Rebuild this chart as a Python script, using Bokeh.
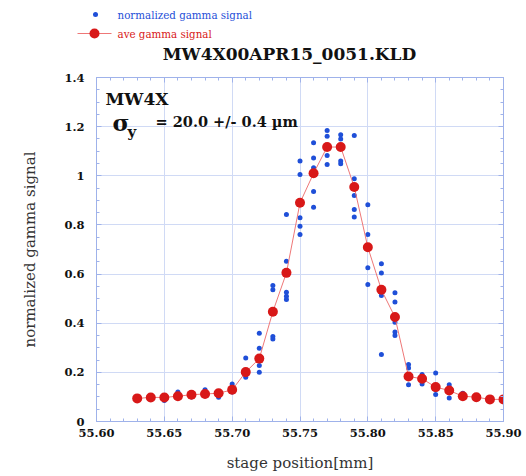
import numpy as np
from bokeh.plotting import figure
from bokeh.layouts import column
from bokeh.models import (Label, LinearAxis, FixedTicker, CustomJSTickFormatter, Range1d)
from bokeh.core.properties import value
from bokeh.embed import file_html
from bokeh.resources import INLINE

# ---- data ----
x_avg = [55.63, 55.64, 55.65, 55.66, 55.67, 55.68, 55.69, 55.70, 55.71, 55.72,
         55.73, 55.74, 55.75, 55.76, 55.77, 55.78, 55.79, 55.80, 55.81, 55.82,
         55.83, 55.84, 55.85, 55.86, 55.87, 55.88, 55.89, 55.90]
y_avg = [0.094, 0.098, 0.098, 0.103, 0.109, 0.112, 0.115, 0.129, 0.201, 0.256,
         0.447, 0.605, 0.890, 1.010, 1.117, 1.117, 0.954, 0.709, 0.536, 0.425,
         0.183, 0.174, 0.140, 0.126, 0.103, 0.099, 0.090, 0.090]

x_raw = [55.63, 55.63, 55.64, 55.64, 55.65, 55.65, 55.66, 55.66, 55.67, 55.67,
         55.68, 55.68, 55.69, 55.69, 55.70, 55.70, 55.70, 55.71, 55.71, 55.71,
         55.72, 55.72, 55.72, 55.72, 55.73, 55.73, 55.73, 55.73,
         55.74, 55.74, 55.74, 55.74, 55.74, 55.75, 55.75, 55.75, 55.75, 55.75,
         55.76, 55.76, 55.76, 55.76, 55.76, 55.77, 55.77, 55.77, 55.77,
         55.78, 55.78, 55.78, 55.78, 55.79, 55.79, 55.79, 55.79, 55.79,
         55.80, 55.80, 55.80, 55.80, 55.81, 55.81, 55.81, 55.81,
         55.82, 55.82, 55.82, 55.82, 55.82, 55.83, 55.83, 55.83,
         55.84, 55.84, 55.84, 55.85, 55.85, 55.85, 55.86, 55.86, 55.86,
         55.87, 55.87, 55.88, 55.88, 55.89, 55.89, 55.90, 55.90]
y_raw = [0.098, 0.092, 0.100, 0.095, 0.085, 0.100, 0.120, 0.100, 0.100, 0.115,
         0.129, 0.105, 0.099, 0.120, 0.153, 0.140, 0.120, 0.258, 0.180, 0.190,
         0.359, 0.298, 0.228, 0.200, 0.553, 0.536, 0.346, 0.336,
         0.842, 0.652, 0.526, 0.510, 0.497, 1.060, 1.005, 0.829, 0.795, 0.761,
         1.134, 1.072, 1.033, 0.936, 0.872, 1.184, 1.161, 1.083, 1.046,
         1.167, 1.150, 1.060, 1.049, 1.164, 0.988, 0.920, 0.863, 0.832,
         0.882, 0.761, 0.626, 0.558, 0.642, 0.604, 0.513, 0.273,
         0.524, 0.486, 0.404, 0.364, 0.350, 0.232, 0.218, 0.150,
         0.191, 0.153, 0.180, 0.197, 0.110, 0.130, 0.150, 0.096, 0.130,
         0.115, 0.100, 0.100, 0.095, 0.090, 0.088, 0.090, 0.085]

x_ticks = [55.60, 55.65, 55.70, 55.75, 55.80, 55.85, 55.90]
x_tick_labels = ["55.60", "55.65", "55.70", "55.75", "55.80", "55.85", "55.90"]
y_ticks = [0, 0.2, 0.4, 0.6, 0.8, 1.0, 1.2, 1.4]
y_tick_labels = ["0", "0.2", "0.4", "0.6", "0.8", "1", "1.2", "1.4"]

title_text = "MW4X00APR15_0051.KLD"
legend_raw = "normalized gamma signal"
legend_avg = "ave gamma signal"

SERIF = "DejaVu Serif"
AX = "#9fb2ea"
GRID = "#d0daf5"
BLUE = "#1f4fd8"
RED = "#d81818"
LINE_RED = "#ee7777"

# ---------- header figure (legend + title) ----------
TOP_H = 70
hdr = figure(width=526, height=TOP_H, output_backend="svg", toolbar_location=None,
             x_range=Range1d(0, 526), y_range=Range1d(TOP_H, 0),
             x_axis_type=None, y_axis_type=None, min_border=0,
             outline_line_color=None)
hdr.frame_align = False
hdr.grid.visible = False
hdr.background_fill_color = "white"
hdr.border_fill_color = "white"

hdr.scatter([95], [14], size=5, color=BLUE, line_color=None)
hdr.line([77, 111], [33, 33], line_color=LINE_RED, line_width=1)
hdr.scatter([94], [33], size=10, color=RED, line_color=None)
hdr.text([117], [14], text=[legend_raw], text_font=value(SERIF), text_font_size="10.3px",
         text_color=BLUE, text_baseline="middle", text_align="left")
hdr.text([117], [33], text=[legend_avg], text_font=value(SERIF), text_font_size="10.3px",
         text_color=RED, text_baseline="middle", text_align="left")
hdr.text([289], [53], text=[title_text], text_font=value(SERIF), text_font_size="17px",
         text_font_style="bold", text_color="#111111", text_baseline="middle",
         text_align="center")

# ---------- main plot ----------
p = figure(width=526, height=476 - TOP_H, output_backend="svg", toolbar_location=None,
           x_range=Range1d(55.60, 55.90), y_range=Range1d(0, 1.4),
           min_border_left=96, min_border_right=23, min_border_top=7,
           min_border_bottom=55, outline_line_color=None)
p.frame_align = False
p.background_fill_color = "white"
p.border_fill_color = "white"

x_minor = list(np.round(np.arange(55.60, 55.9001, 0.01), 2))
y_minor = list(np.round(np.arange(0, 1.4001, 0.05), 2))
xt = FixedTicker(ticks=x_ticks, minor_ticks=x_minor)
yt = FixedTicker(ticks=y_ticks, minor_ticks=y_minor)

xfmt = CustomJSTickFormatter(args=dict(labels=x_tick_labels), code="return labels[index]")
yfmt = CustomJSTickFormatter(args=dict(labels=y_tick_labels), code="return labels[index]")
blank = CustomJSTickFormatter(code="return ''")

def style_axis(ax, show_labels):
    ax.axis_line_color = AX
    ax.major_tick_line_color = AX
    ax.minor_tick_line_color = AX
    ax.major_tick_in = 5
    ax.major_tick_out = 0
    ax.minor_tick_in = 3
    ax.minor_tick_out = 0
    ax.major_label_text_font = SERIF
    ax.major_label_text_font_style = "bold"
    ax.major_label_text_font_size = "11.5px" if show_labels else "0px"
    ax.major_label_text_color = "#111111"
    ax.axis_label_text_font = SERIF
    ax.axis_label_text_font_style = "normal"
    ax.axis_label_text_font_size = "15px"
    ax.axis_label_text_color = "#333333"

xa = p.xaxis[0]
xa.ticker = xt
xa.formatter = xfmt
style_axis(xa, True)
xa.major_label_standoff = 7
xa.axis_label = "stage position[mm]"
xa.axis_label_standoff = 14

ya = p.yaxis[0]
ya.ticker = yt
ya.formatter = yfmt
style_axis(ya, True)
ya.major_label_standoff = 12
ya.axis_label = "normalized gamma signal"
ya.axis_label_standoff = 22

top = LinearAxis(ticker=xt, formatter=blank)
style_axis(top, False)
p.add_layout(top, "above")
right = LinearAxis(ticker=yt, formatter=blank)
style_axis(right, False)
p.add_layout(right, "right")

p.xgrid.ticker = xt
p.ygrid.ticker = yt
p.xgrid.grid_line_color = GRID
p.ygrid.grid_line_color = GRID

p.scatter(x_raw, y_raw, size=5, color=BLUE, line_color=None)
p.line(x_avg, y_avg, line_color=LINE_RED, line_width=1)
p.scatter(x_avg, y_avg, size=10, color=RED, line_color=None)

def lab(x, y, text, size, style="bold", align="left"):
    p.add_layout(Label(x=x, y=y, x_units="screen", y_units="screen", text=text,
                       text_font=SERIF, text_font_size=size, text_font_style=style,
                       text_align=align, text_baseline="middle", text_color="#111111"))

lab(9, 323, "MW4X", "17px")
lab(16, 299, "σ", "23px")
lab(31, 290, "y", "15px")
lab(59, 300, "= 20.0 +/- 0.4 µm", "14.5px")

layout = column(hdr, p, spacing=0)
open("out.html", "w").write(file_html(layout, INLINE))
